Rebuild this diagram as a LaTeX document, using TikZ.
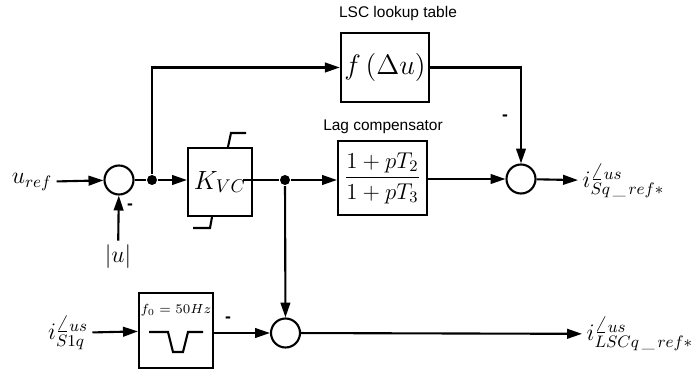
\RequirePackage{fix-cm}
\documentclass[tikz,border=0pt]{standalone}
\usepackage{amsmath}
\usepackage[no-math]{fontspec}
\newfontfamily\arialfont{Liberation Sans}
\usetikzlibrary{arrows.meta}

\begin{document}
\begin{tikzpicture}[x=0.02cm, y=-0.02cm, >={Triangle[length=8.5pt,width=5.5pt]}, line width=1.2pt,
        block/.style={draw, align=center, inner sep=2pt},
        sum/.style={draw, circle, minimum size=0.58cm, inner sep=0pt},
        dot/.style={circle, fill, inner sep=0pt, minimum size=0.2cm},
        caption/.style={font=\arialfont\fontsize{8.8}{10.5}\selectfont, inner sep=1pt},
        sign/.style={font=\arialfont\bfseries\fontsize{10}{12}\selectfont, inner sep=0pt},
        signal/.style={font=\fontsize{13.5}{16}\selectfont, inner sep=2pt}]
    \useasboundingbox (0,0) rectangle (699,375);
    % voltage loop
    \node[signal] (uref) at (32,182) {$u_{ref}$};
    \node[sum] (sum1) at (119,180) {};
    \node[signal] (absu) at (118,257) {$|u|$};
    \node[sign] (minus1) at (130,207) {-};
    \node[dot] (jn1) at (152,180) {};
    \node[block, minimum width=1.28cm, minimum height=1.36cm, font=\fontsize{15}{18}\selectfont] (kvc) at (220,182) {$K_{VC}$};
    \node[dot] (jn2) at (285,180) {};
    \node[block, minimum width=1.78cm, minimum height=1.48cm, font=\fontsize{13}{16}\selectfont] (lag) at (382.5,178) {$\dfrac{1+pT_2}{1+pT_3}$};
    \node[caption] (lagtitle) at (383,127) {Lag compensator};
    \node[block, minimum width=1.68cm, minimum height=1.38cm, font=\fontsize{16}{19}\selectfont] (lookup) at (385,67.5) {$f\,(\Delta u)$};
    \node[caption] (lookuptitle) at (398,14) {LSC lookup table};
    \node[sum] (sum2) at (521,179) {};
    \node[sign] (minus2) at (505,118) {-};
    \node[signal, anchor=west] (isq) at (578,181) {$i^{\angle us}_{Sq\,\_\,ref*}$};
    % limiter marks
    \draw ([xshift=0.16cm]kvc.north) -- ++(3,-14) -- ++(15,0);
    \draw ([xshift=-0.16cm]kvc.south) -- ++(-2,11) -- ++(-17,0);
    \draw[->] (uref) -- (sum1);
    \draw[->] (absu) -- (sum1);
    \draw (sum1) -- (jn1);
    \draw[->] (jn1) -- (jn1 -| kvc.west);
    \draw[->] (jn1) |- (lookup);
    \draw ([xshift=-0.2cm]kvc.east |- jn2) -- (jn2);
    \draw[->] (jn2) -- (jn2 -| lag.west);
    \draw[->] (lag.east |- sum2) -- (sum2);
    \draw[->] (lookup.east) -| (sum2);
    \draw[->] (sum2) -- (isq);
    % notch filter branch
    \node[signal] (is1q) at (68,333) {$i^{\angle us}_{S1q}$};
    \node[block, minimum width=1.48cm, minimum height=1.5cm] (notch) at (176,330.5) {};
    \node[font=\fontsize{7.5}{9}\selectfont, inner sep=0pt] (f0) at (176,310) {$f_0 = 50Hz$};
    \draw (notch.center) ++(-27,1.5) -- ++(19,0) -- ++(5,20) -- ++(10,0) -- ++(5,-20) -- ++(15,0);
    \node[sum] (sum3) at (285.5,333) {};
    \node[sign] (minus3) at (228,320) {-};
    \node[signal, anchor=west] (ilscq) at (582,334) {$i^{\angle us}_{LSCq\,\_\,ref*}$};
    \draw[->] (is1q) -- (notch);
    \draw[->] (notch.east |- sum3) -- (sum3);
    \draw[->] (jn2) -- (sum3);
    \draw[->] (sum3) -- (ilscq);
\end{tikzpicture}
\end{document}
